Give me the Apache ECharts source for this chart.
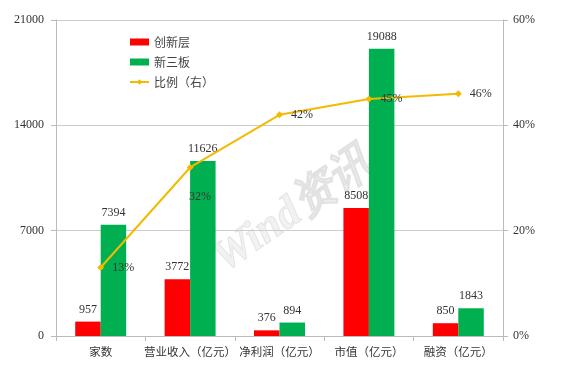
<!DOCTYPE html>
<html><head><meta charset="utf-8">
<script src="https://cdn.jsdelivr.net/npm/echarts@6/dist/echarts.min.js"></script>
<style>html,body{margin:0;padding:0;background:#fff}#c{width:561px;height:369px}</style>
</head><body><div id="c"></div>
<script>
const categories = ['家数','营业收入（亿元）','净利润（亿元）','市值（亿元）','融资（亿元）'];
const innovation = [957, 3772, 376, 8508, 850];
const neeq = [7394, 11626, 894, 19088, 1843];
const ratio = [13, 32, 42, 45, 46];
const leftTicks = [0, 7000, 14000, 21000];
const rightTicks = [0, 20, 40, 60];

const serif = 'Liberation Serif';
const cjk = 'Noto Sans CJK SC';
const chart = echarts.init(document.getElementById('c'));
chart.setOption({
  animation: false,
  backgroundColor: '#fff',
  grid: {left: 56, right: 58, top: 20, bottom: 33},
  legend: {
    orient: 'vertical', left: 124, top: 31, itemGap: 8, itemWidth: 19, itemHeight: 7,
    textStyle: {fontFamily: cjk, fontSize: 12, color: '#444'},
    data: [{name:'创新层', icon:'rect'}, {name:'新三板', icon:'rect'}, {name:'比例（右）'}]
  },
  graphic: [{
    type: 'text', left: 205, top: 140, rotation: Math.PI/5.2,
    style: {text: 'Wind资讯', font: 'bold italic 44px ' + serif, fill: 'rgba(210,210,210,0.28)', stroke: 'rgba(190,190,190,0.35)', lineWidth: 1}, z: 0
  }],
  xAxis: {
    type: 'category', data: categories,
    axisLine: {lineStyle: {color: '#bbb'}},
    axisTick: {show: true, length: 5, lineStyle: {color: '#bbb'}},
    axisLabel: {interval: 0, fontFamily: cjk, fontSize: 11.5, color: '#333', margin: 10}
  },
  yAxis: [{
    type: 'value', min: leftTicks[0], max: leftTicks[leftTicks.length-1], interval: 7000,
    axisLine: {show: true, lineStyle: {color: '#bbb'}},
    axisTick: {show: true, length: 5, lineStyle: {color: '#bbb'}},
    axisLabel: {fontFamily: serif, fontSize: 12, color: '#333', margin: 12, formatter: v => String(v)},
    splitLine: {lineStyle: {color: '#ccc'}}
  }, {
    type: 'value', min: rightTicks[0], max: rightTicks[rightTicks.length-1], interval: 20,
    axisLine: {show: true, lineStyle: {color: '#bbb'}},
    axisTick: {show: true, length: 5, lineStyle: {color: '#bbb'}},
    axisLabel: {fontFamily: serif, fontSize: 12, color: '#333', margin: 10, formatter: '{value}%'},
    splitLine: {show: false}
  }],
  series: [{
    name: '创新层', type: 'bar', data: innovation, barGap: '0%', barCategoryGap: '43%',
    itemStyle: {color: '#FF0000'},
    label: {show: true, position: 'top', fontFamily: serif, fontSize: 12, color: '#333', distance: 6}
  }, {
    name: '新三板', type: 'bar', data: neeq,
    itemStyle: {color: '#00B050'},
    label: {show: true, position: 'top', fontFamily: serif, fontSize: 12, color: '#333', distance: 6}
  }, {
    name: '比例（右）', type: 'line', yAxisIndex: 1,
    data: ratio.map((v, i) => i === 1 ? {value: v, label: {position: 'bottom', offset: [10, 12]}} : v),
    symbol: 'diamond', symbolSize: 7,
    lineStyle: {color: '#F2BA00', width: 2},
    itemStyle: {color: '#F2BA00'},
    label: {show: true, position: 'right', distance: 8, fontFamily: serif, fontSize: 12, color: '#333', formatter: '{c}%'},
    z: 5
  }]
});
</script></body></html>
